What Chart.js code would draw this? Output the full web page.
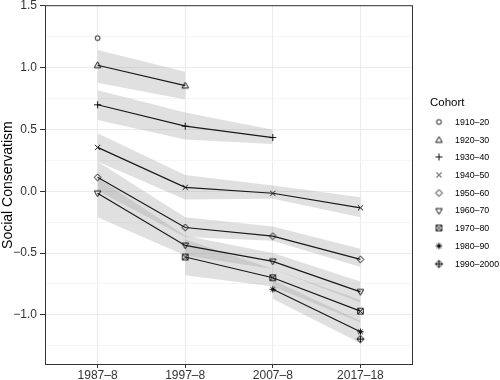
<!DOCTYPE html>
<html>
<head>
<meta charset="utf-8">
<script src="https://cdn.jsdelivr.net/npm/chart.js@4.4.1/dist/chart.umd.min.js"></script>
<style>
    html, body { margin: 0; padding: 0; background: #fff; }
    #wrap { width: 500px; height: 380px; }
</style>
</head>
<body>
<div id="wrap"><canvas id="cohortChart" width="500" height="380"></canvas></div>
<script>
// Survey waves on the x axis
const waves = ['1987–8', '1997–8', '2007–8', '2017–18'];
const cohorts = ['1910–20', '1920–30', '1930–40', '1940–50', '1950–60', '1960–70', '1970–80', '1980–90', '1990–2000'];

// Mean social conservatism per cohort (null = cohort not in that wave)
const mean1910 = [1.24, null, null, null];
const mean1920 = [1.02, 0.855, null, null];
const mean1930 = [0.70, 0.527, 0.435, null];
const mean1940 = [0.355, 0.032, -0.016, -0.134];
const mean1950 = [0.113, -0.293, -0.363, -0.551];
const mean1960 = [-0.016, -0.438, -0.567, -0.814];
const mean1970 = [null, -0.532, -0.70, -0.97];
const mean1980 = [null, null, -0.793, -1.137];
const mean1990 = [null, null, null, -1.196];

// Confidence bands (lower / upper)
const low1920 = [0.879, 0.742, null, null];
const high1920 = [1.143, 0.968, null, null];
const low1930 = [0.576, 0.42, 0.382, null];
const high1930 = [0.818, 0.637, 0.497, null];
const low1940 = [0.24, -0.067, -0.061, -0.21];
const high1940 = [0.47, 0.132, 0.046, -0.048];
const low1950 = [0.006, -0.37, -0.40, -0.613];
const high1950 = [0.24, -0.21, -0.285, -0.465];
const low1960 = [-0.21, -0.52, -0.63, -0.90];
const high1960 = [0.11, -0.36, -0.50, -0.73];
const low1970 = [null, -0.68, -0.77, -1.06];
const high1970 = [null, -0.39, -0.63, -0.88];
const low1980 = [null, null, -0.87, -1.23];
const high1980 = [null, null, -0.72, -1.05];

const yMajor = [-1.0, -0.5, 0.0, 0.5, 1.0, 1.5];
const yMinor = [-1.25, -0.75, -0.25, 0.25, 0.75, 1.25];

const means = [mean1910, mean1920, mean1930, mean1940, mean1950, mean1960, mean1970, mean1980, mean1990];
const bands = [
    [low1920, high1920], [low1930, high1930], [low1940, high1940],
    [low1950, high1950], [low1960, high1960], [low1970, high1970], [low1980, high1980]
];
const shapes = ['circle', 'triangle', 'plus', 'cross', 'diamond', 'triangleDown', 'boxCross', 'asterisk', 'diamondPlus'];

const FONT = "'Liberation Sans', Arial, Helvetica, sans-serif";
const INK = '#1a1a1a';

// ggplot-like point shapes drawn on small canvases
function makeSymbol(kind) {
    const c = document.createElement('canvas');
    c.width = 11; c.height = 11;
    const g = c.getContext('2d');
    const m = 5.5;
    g.strokeStyle = '#111';
    g.lineWidth = 1.0;
    g.beginPath();
    if (kind === 'circle') {
        g.arc(m, m, 2.4, 0, Math.PI * 2);
    } else if (kind === 'triangle') {
        g.moveTo(m, m - 3.4); g.lineTo(m + 3.3, m + 2.4); g.lineTo(m - 3.3, m + 2.4); g.closePath();
    } else if (kind === 'triangleDown') {
        g.moveTo(m, m + 3.4); g.lineTo(m + 3.3, m - 2.4); g.lineTo(m - 3.3, m - 2.4); g.closePath();
    } else if (kind === 'plus') {
        g.moveTo(m - 3.5, m); g.lineTo(m + 3.5, m); g.moveTo(m, m - 3.5); g.lineTo(m, m + 3.5);
    } else if (kind === 'cross') {
        g.moveTo(m - 2.6, m - 2.6); g.lineTo(m + 2.6, m + 2.6); g.moveTo(m + 2.6, m - 2.6); g.lineTo(m - 2.6, m + 2.6);
    } else if (kind === 'diamond') {
        g.moveTo(m, m - 3.4); g.lineTo(m + 3.4, m); g.lineTo(m, m + 3.4); g.lineTo(m - 3.4, m); g.closePath();
    } else if (kind === 'boxCross') {
        g.rect(m - 2.8, m - 2.8, 5.6, 5.6);
        g.moveTo(m - 2.8, m - 2.8); g.lineTo(m + 2.8, m + 2.8); g.moveTo(m + 2.8, m - 2.8); g.lineTo(m - 2.8, m + 2.8);
    } else if (kind === 'asterisk') {
        g.moveTo(m - 3.2, m); g.lineTo(m + 3.2, m); g.moveTo(m, m - 3.2); g.lineTo(m, m + 3.2);
        g.moveTo(m - 2.3, m - 2.3); g.lineTo(m + 2.3, m + 2.3); g.moveTo(m + 2.3, m - 2.3); g.lineTo(m - 2.3, m + 2.3);
    } else if (kind === 'diamondPlus') {
        g.moveTo(m, m - 3.6); g.lineTo(m + 3.6, m); g.lineTo(m, m + 3.6); g.lineTo(m - 3.6, m); g.closePath();
        g.moveTo(m - 3.6, m); g.lineTo(m + 3.6, m); g.moveTo(m, m - 3.6); g.lineTo(m, m + 3.6);
    }
    g.stroke();
    return c;
}
const symbols = shapes.map(makeSymbol);

const toPoints = arr => arr.map((v, i) => ({ x: i, y: v }));

const datasets = [];
// lines first so they sit on top of the bands
means.forEach((arr, i) => {
    datasets.push({
        label: cohorts[i],
        data: toPoints(arr),
        borderColor: INK,
        borderWidth: 1.2,
        pointStyle: symbols[i],
        pointRadius: 4,
        fill: false,
        order: 0
    });
});
bands.forEach(([lo, hi]) => {
    datasets.push({
        label: 'band',
        data: toPoints(hi),
        borderWidth: 0,
        pointRadius: 0,
        fill: false,
        order: 1
    });
    datasets.push({
        label: 'band',
        data: toPoints(lo),
        borderWidth: 0,
        pointRadius: 0,
        backgroundColor: 'rgba(153,153,153,0.3)',
        fill: '-1',
        order: 1
    });
});

// panel border + legend
const panelAndLegend = {
    id: 'panelAndLegend',
    afterDraw(chart) {
        const { ctx, chartArea: a } = chart;
        ctx.save();
        ctx.strokeStyle = '#333';
        ctx.lineWidth = 1;
        ctx.strokeRect(a.left + 0.5, a.top + 0.5, a.right - a.left - 1, a.bottom - a.top - 1);

        ctx.fillStyle = '#000';
        ctx.font = '11.5px ' + FONT;
        ctx.textBaseline = 'middle';
        ctx.textAlign = 'left';
        ctx.fillText('Cohort', 430, 103);
        ctx.font = '8.8px ' + FONT;
        cohorts.forEach((c, i) => {
            const y = 122 + i * 17.7;
            ctx.drawImage(symbols[i], 439 - 5.5, Math.round(y) - 5.5);
            ctx.fillStyle = '#000';
            ctx.fillText(c, 455, y + 0.5);
        });
        ctx.restore();
    }
};

new Chart(document.getElementById('cohortChart'), {
    type: 'line',
    data: { datasets },
    options: {
        responsive: false,
        animation: false,
        spanGaps: false,
        layout: { padding: { top: 4, right: 87, bottom: 0, left: 0 } },
        plugins: {
            legend: { display: false },
            tooltip: { enabled: false }
        },
        scales: {
            x: {
                type: 'linear',
                min: -0.6,
                max: 3.6,
                afterBuildTicks: s => { s.ticks = waves.map((w, i) => ({ value: i })); },
                afterFit: s => { s.height = 15; s.paddingLeft = 0; s.paddingRight = 0; },
                ticks: {
                    callback: v => waves[v],
                    color: '#333',
                    font: { family: FONT, size: 12 },
                    padding: 0,
                    maxRotation: 0
                },
                grid: { color: '#ebebeb', lineWidth: 1, tickColor: '#333', tickLength: 3 },
                border: { display: false }
            },
            y: {
                min: -1.406,
                max: 1.506,
                afterBuildTicks: s => {
                    s.ticks = yMajor.concat(yMinor).sort((p, q) => p - q).map(v => ({ value: v }));
                },
                afterFit: s => { s.width = 45; s.paddingTop = 0; s.paddingBottom = 0; },
                ticks: {
                    callback: v => yMajor.includes(v) ? v.toFixed(1).replace('-', '\u2212') : '',
                    color: '#333',
                    font: { family: FONT, size: 12 },
                    padding: 3
                },
                grid: {
                    color: c => yMajor.includes(c.tick.value) ? '#ebebeb' : '#f5f5f5',
                    lineWidth: 1,
                    tickColor: c => yMajor.includes(c.tick.value) ? '#333' : 'rgba(0,0,0,0)',
                    tickLength: 5
                },
                border: { display: false },
                title: {
                    display: true,
                    text: 'Social Conservatism',
                    color: '#000',
                    font: { family: FONT, size: 14 },
                    padding: { top: 0, bottom: 2 }
                }
            }
        }
    },
    plugins: [panelAndLegend]
});
</script>
</body>
</html>
